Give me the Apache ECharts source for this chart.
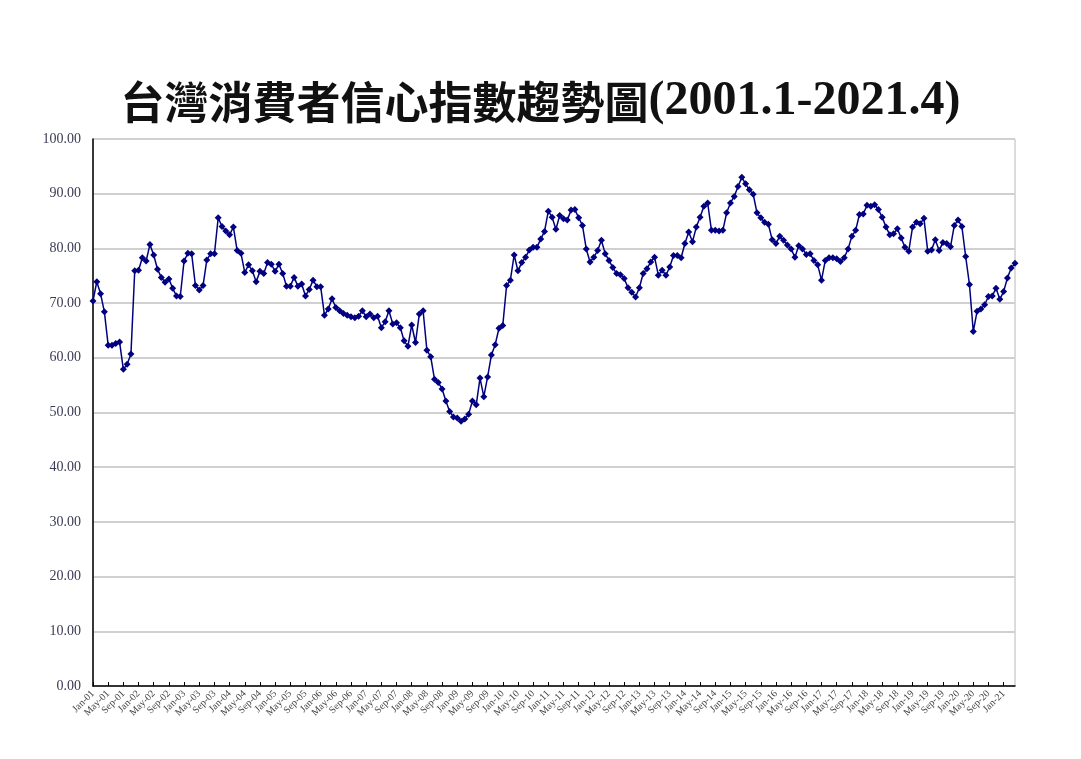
<!DOCTYPE html>
<html>
<head>
<meta charset="utf-8">
<script src="https://cdn.jsdelivr.net/npm/echarts@6/dist/echarts.min.js"></script>
<style>
  html, body { margin: 0; padding: 0; background: #fff; }
  #chart { width: 1081px; height: 759px; }
</style>
</head>
<body>
<div id="chart"></div>
<script>
// monthly index, Jan 2001 .. Apr 2021
const cci2001_2005 = [
  70.4, 73.9, 71.7, 68.4, 62.3, 62.3, 62.6, 62.9, 57.9, 58.8, 60.7, 75.9,
  76.0, 78.3, 77.7, 80.7, 78.8, 76.2, 74.7, 73.8, 74.4, 72.7, 71.3, 71.2,
  77.7, 79.1, 79.0, 73.2, 72.4, 73.2, 77.9, 79.0, 79.0, 85.6, 84.0, 83.2,
  82.5, 83.9, 79.6, 79.1, 75.6, 77.0, 75.9, 73.9, 75.8, 75.4, 77.4, 77.1,
  75.8, 77.1, 75.4, 73.1, 73.1, 74.7, 73.1, 73.5, 71.3, 72.5, 74.2, 73.0
];
const cci2006_2010 = [
  73.0, 67.8, 68.9, 70.8, 69.2, 68.6, 68.1, 67.8, 67.5, 67.3, 67.6, 68.6,
  67.5, 68.0, 67.3, 67.6, 65.5, 66.6, 68.6, 66.2, 66.4, 65.5, 63.1, 62.1,
  66.0, 62.8, 68.0, 68.6, 61.4, 60.2, 56.1, 55.5, 54.3, 52.1, 50.2, 49.2,
  49.0, 48.4, 48.8, 49.7, 52.1, 51.4, 56.3, 52.9, 56.5, 60.5, 62.4, 65.4,
  65.9, 73.2, 74.2, 78.8, 75.9, 77.4, 78.4, 79.7, 80.2, 80.2, 81.7, 83.1
];
const cci2011_2015 = [
  86.8, 85.7, 83.5, 86.0, 85.4, 85.2, 87.0, 87.1, 85.6, 84.2, 79.9, 77.5,
  78.4, 79.6, 81.5, 79.0, 77.8, 76.5, 75.4, 75.2, 74.5, 72.8, 72.0, 71.1,
  72.8, 75.4, 76.3, 77.5, 78.4, 75.1, 76.0, 75.1, 76.6, 78.7, 78.7, 78.3,
  80.9, 83.0, 81.2, 83.9, 85.7, 87.7, 88.3, 83.3, 83.3, 83.2, 83.3, 86.5,
  88.3, 89.5, 91.3, 93.0, 91.8, 90.7, 89.9, 86.5, 85.6, 84.8, 84.4, 81.6
];
const cci2016_2021 = [
  80.9, 82.2, 81.5, 80.6, 79.9, 78.4, 80.5, 79.9, 78.9, 79.0, 77.8, 77.0,
  74.2, 77.8, 78.3, 78.3, 78.1, 77.6, 78.3, 79.9, 82.2, 83.3, 86.2, 86.3,
  87.9, 87.7, 88.0, 87.1, 85.7, 83.9, 82.5, 82.7, 83.6, 81.9, 80.2, 79.5,
  83.9, 84.8, 84.5, 85.5, 79.5, 79.7, 81.6, 79.6, 81.1, 80.9, 80.3, 84.2,
  85.2, 84.0, 78.5, 73.4, 64.8, 68.5, 68.9, 69.7, 71.2, 71.3, 72.7, 70.7,
  72.1, 74.6, 76.4, 77.3
];
const cciValues = [].concat(cci2001_2005, cci2006_2010, cci2011_2015, cci2016_2021);

const monthNames = ['Jan', 'Feb', 'Mar', 'Apr', 'May', 'Jun', 'Jul', 'Aug', 'Sep', 'Oct', 'Nov', 'Dec'];
const firstYear = 2001;
const months = cciValues.map((v, i) => {
  const y = String((firstYear + Math.floor(i / 12)) % 100).padStart(2, '0');
  return monthNames[i % 12] + '-' + y;
});

const yTicks = { min: 0, max: 100, interval: 10 };

const chart = echarts.init(document.getElementById('chart'));

const option = {
  backgroundColor: '#fff',
  animation: false,
  title: {
    text: '{cn|台灣消費者信心指數趨勢圖}{en|(2001.1-2021.4)}',
    left: 'center',
    top: 73,
    textStyle: {
      rich: {
        cn: {
          fontFamily: 'Noto Sans CJK TC',
          fontWeight: 'bold',
          fontSize: 44,
          color: '#111'
        },
        en: {
          fontFamily: 'Liberation Serif',
          fontWeight: 'bold',
          fontSize: 48,
          color: '#111'
        }
      }
    }
  },
  grid: {
    left: 93,
    right: 66,
    top: 139,
    bottom: 73,
    show: true,
    borderColor: '#b8b8b8',
    borderWidth: 1
  },
  xAxis: {
    type: 'category',
    data: months,
    boundaryGap: false,
    axisLine: { lineStyle: { color: '#000', width: 1.5 } },
    axisTick: { show: true, inside: true, length: 4, interval: 3, lineStyle: { color: '#000' } },
    axisLabel: {
      interval: 3,
      rotate: 45,
      fontSize: 10,
      margin: 6,
      color: '#444',
      fontFamily: 'Liberation Serif'
    },
    splitLine: { show: false }
  },
  yAxis: {
    type: 'value',
    min: yTicks.min,
    max: yTicks.max,
    interval: yTicks.interval,
    axisLine: { show: true, lineStyle: { color: '#000', width: 1.5 } },
    axisTick: { show: false },
    axisLabel: {
      formatter: v => v.toFixed(2),
      fontFamily: 'Liberation Serif',
      fontSize: 14,
      color: '#3a3a55',
      margin: 12
    },
    splitLine: { lineStyle: { color: '#d0d0d0', width: 2 } }
  },
  series: [{
    name: '消費者信心指數',
    type: 'line',
    data: cciValues,
    symbol: 'diamond',
    symbolSize: 7,
    showAllSymbol: true,
    lineStyle: { color: '#000080', width: 1.5 },
    itemStyle: { color: '#000080' }
  }]
};

chart.setOption(option);
</script>
</body>
</html>
